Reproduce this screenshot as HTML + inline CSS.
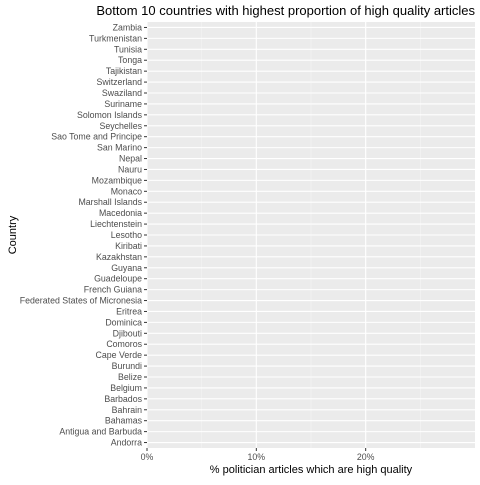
<!DOCTYPE html>
<html><head><meta charset="utf-8"><style>
body{margin:0;background:#fff;font-family:"Liberation Sans",Arial,sans-serif}
</style></head><body>
<svg id="c" width="480" height="480" xmlns="http://www.w3.org/2000/svg"></svg>
<script>
const countries=["Andorra","Antigua and Barbuda","Bahamas","Bahrain","Barbados","Belgium","Belize","Burundi","Cape Verde","Comoros","Djibouti","Dominica","Eritrea","Federated States of Micronesia","French Guiana","Guadeloupe","Guyana","Kazakhstan","Kiribati","Lesotho","Liechtenstein","Macedonia","Marshall Islands","Monaco","Mozambique","Nauru","Nepal","San Marino","Sao Tome and Principe","Seychelles","Solomon Islands","Suriname","Swaziland","Switzerland","Tajikistan","Tonga","Tunisia","Turkmenistan","Zambia"];
const values=[0,0,0,0,0,0,0,0,0,0,0,0,0,0,0,0,0,0,0,0,0,0,0,0,0,0,0,0,0,0,0,0,0,0,0,0,0,0,0];
const xTicks=[0,10,20];
const xTickLabels=["0%","10%","20%"];
const xMinor=[5,15,25];
const NS="http://www.w3.org/2000/svg";
const svg=document.getElementById('c');
const L=147,R=475,T=22,B=448,xMax=30;
const n=countries.length,step=(B-T)/n;
const x=v=>L+(v/xMax)*(R-L);
const y=i=>B-step*(i+0.5);
function mk(tag,attrs,parent){const e=document.createElementNS(NS,tag);for(const k in attrs)e.setAttribute(k,attrs[k]);(parent||svg).appendChild(e);return e;}
const panel=mk('rect',{x:L,y:T,width:R-L,height:B-T,fill:'#ebebeb'});


xMinor.forEach(v=>{const l=mk('line',{x1:x(v),x2:x(v),y1:T,y2:B,stroke:'#f5f5f5','stroke-width':0.6});

});
xTicks.forEach((v,i)=>{const l=mk('line',{x1:x(v),x2:x(v),y1:T,y2:B,stroke:'#fff','stroke-width':1.1});


const t=mk('line',{x1:x(v),x2:x(v),y1:B,y2:B+3,stroke:'#333','stroke-width':1});


const tx=mk('text',{x:x(v),y:B+12,'text-anchor':'middle','font-size':8.8,fill:'#4d4d4d'});
tx.textContent=xTickLabels[i];

});
countries.forEach((c,i)=>{const g=mk('line',{x1:L,x2:R,y1:y(i),y2:y(i),stroke:'#fff','stroke-width':1.1});


const b=mk('rect',{x:L,y:y(i)-step*0.45,width:x(values[i])-L,height:step*0.9,fill:'#595959'});


const t=mk('line',{x1:L-3,x2:L,y1:y(i),y2:y(i),stroke:'#333','stroke-width':1});


const tx=mk('text',{x:L-5,y:y(i)+3,'text-anchor':'end','font-size':8.8,fill:'#4d4d4d'});
tx.textContent=c;

});
const xt=mk('text',{x:(L+R)/2,y:473,'text-anchor':'middle','font-size':11,fill:'#000'});
xt.textContent='% politician articles which are high quality';


const yt=mk('text',{x:16,y:(T+B)/2,'text-anchor':'middle','font-size':11,fill:'#000',transform:`rotate(-90 16 ${(T+B)/2})`});
yt.textContent='Country';


const tt=mk('text',{x:475,y:15,'text-anchor':'end','font-size':13,fill:'#000'});
tt.textContent='Bottom 10 countries with highest proportion of high quality articles';


</script>
</body></html>
